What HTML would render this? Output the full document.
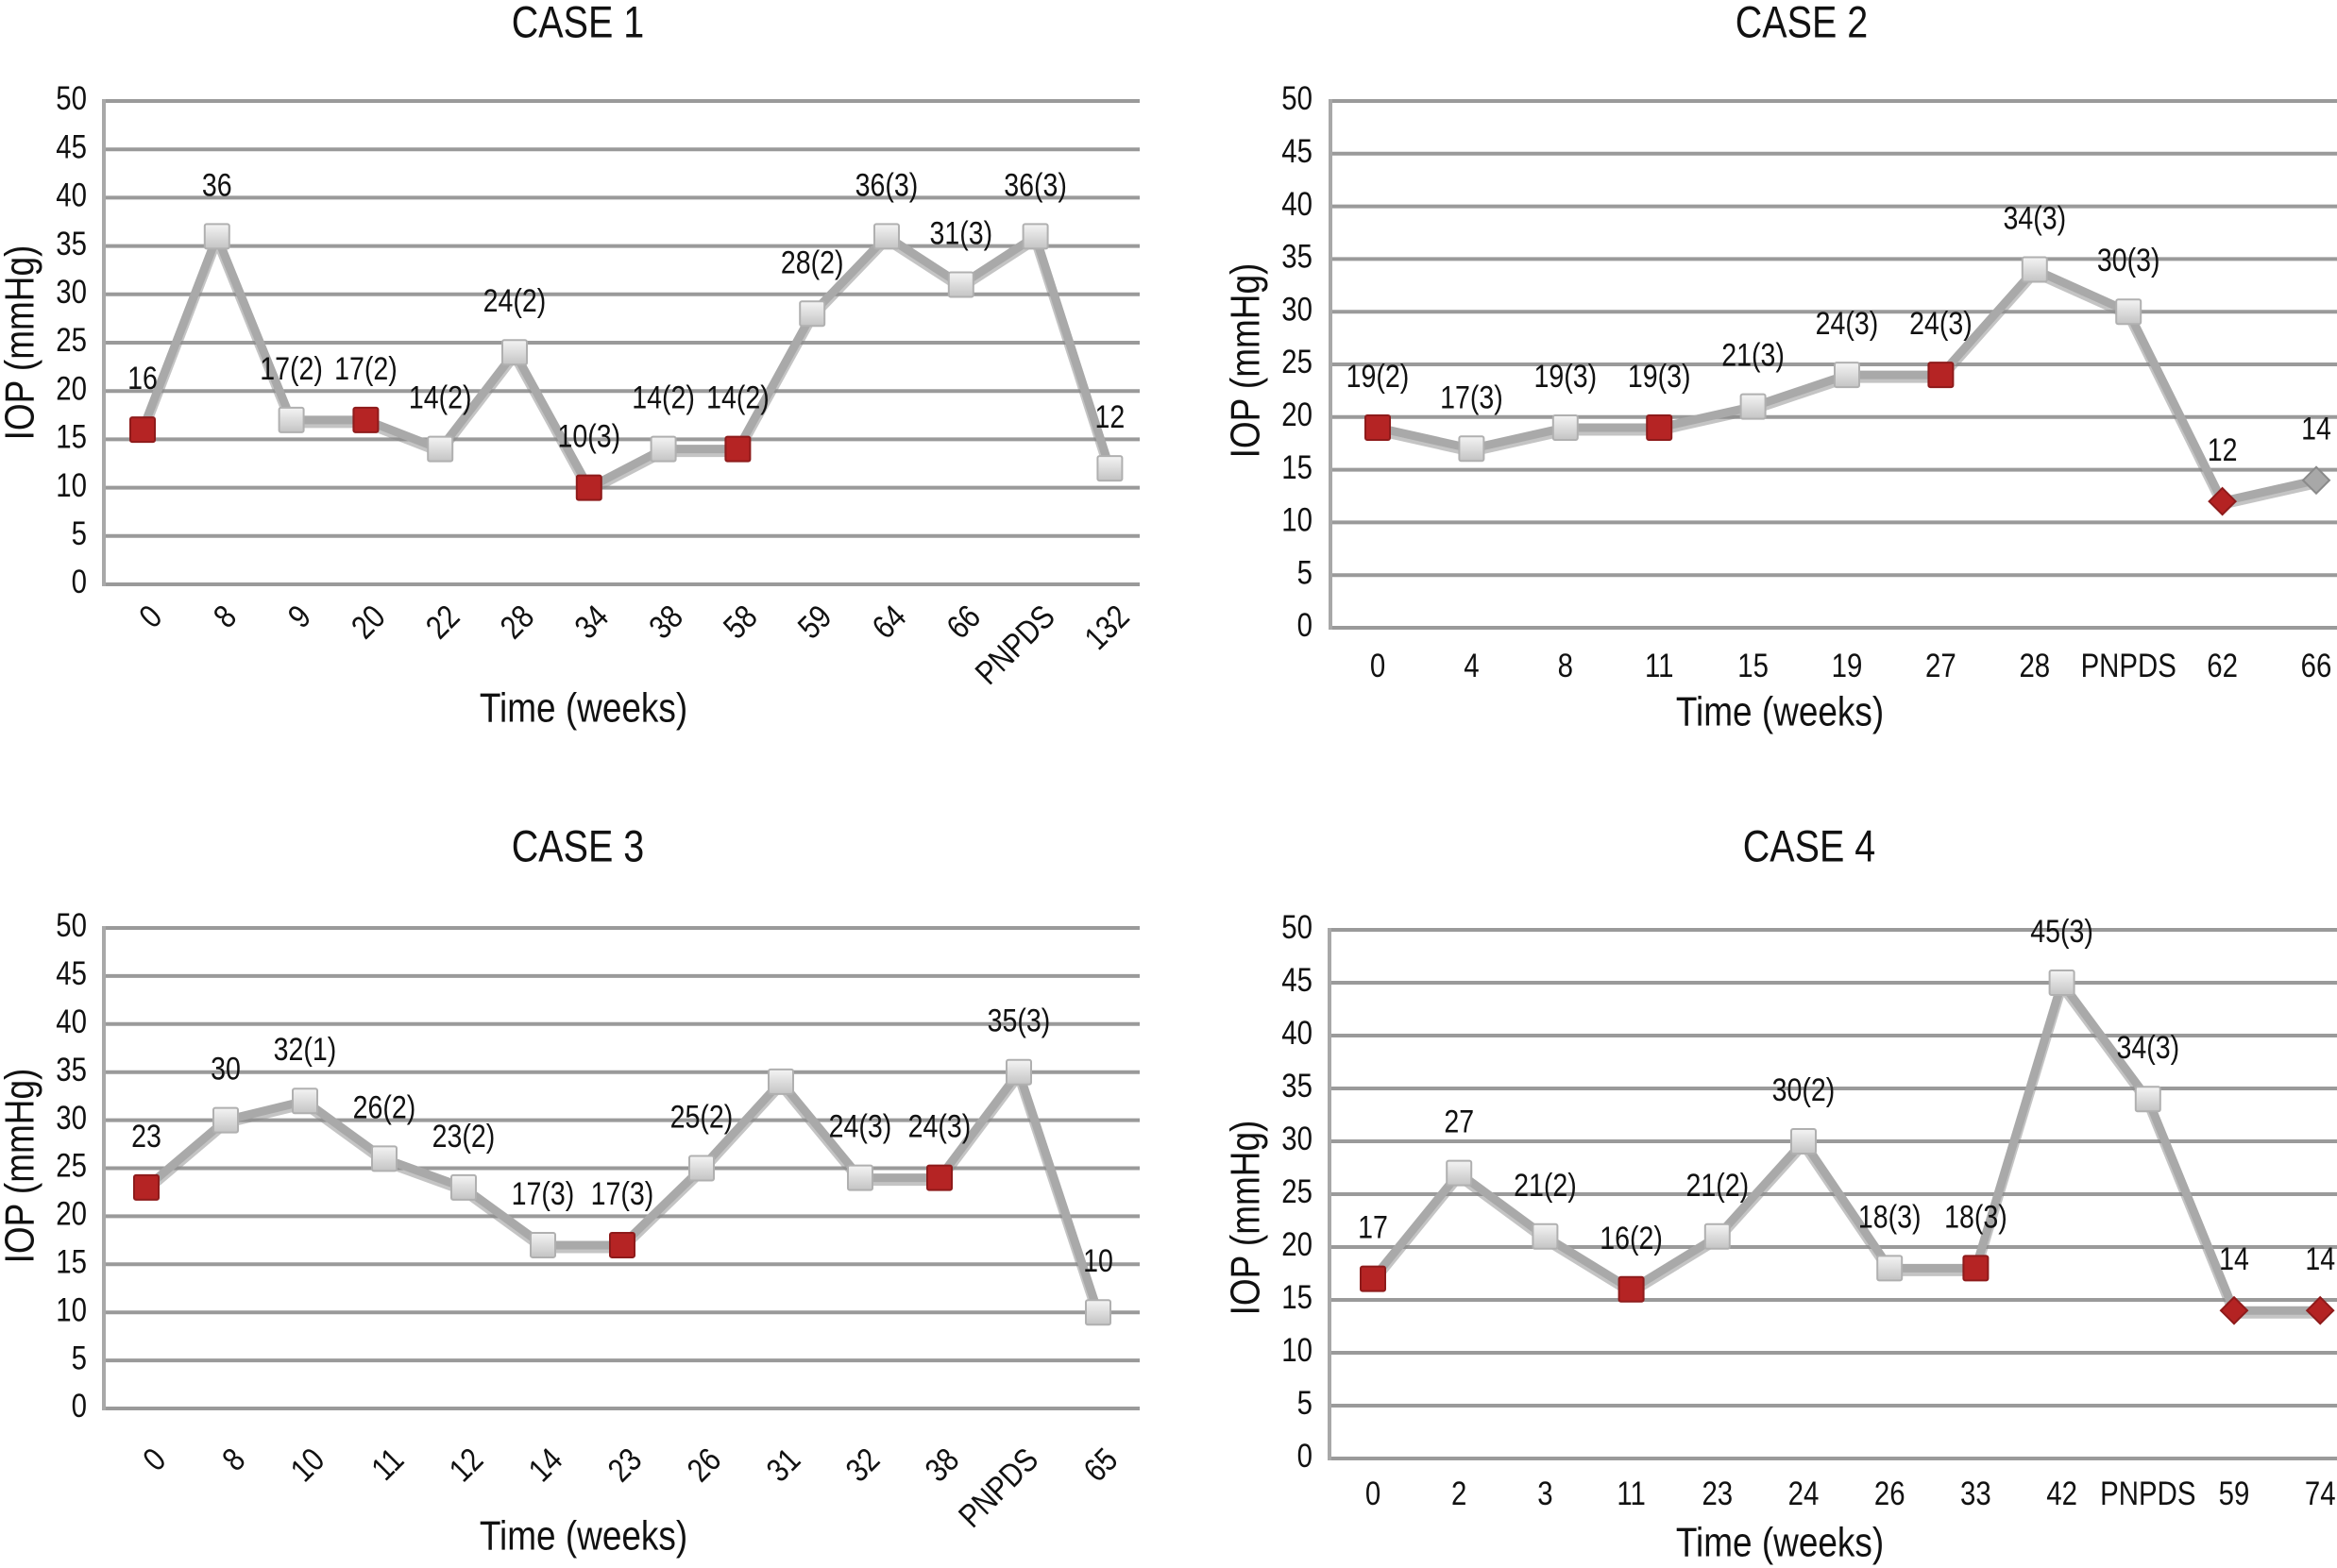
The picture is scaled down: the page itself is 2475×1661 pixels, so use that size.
<!DOCTYPE html>
<html><head><meta charset="utf-8">
<style>
html,body{margin:0;padding:0;background:#fff;}
svg{display:block;}
text{font-family:"Liberation Sans",Arial,sans-serif;fill:#111;}
</style></head>
<body>
<svg id="fig" width="2475" height="1661" viewBox="0 0 2475 1661" xmlns="http://www.w3.org/2000/svg">
<defs>
<linearGradient id="gsq" x1="0" y1="0" x2="0" y2="1">
<stop offset="0" stop-color="#f4f4f4"/><stop offset="1" stop-color="#c4c4c4"/>
</linearGradient>
</defs>
</svg>
<script>
// ---- data ----
const case1Categories = ["0","8","9","20","22","28","34","38","58","59","64","66","PNPDS","132"];
const case1Values = [16,36,17,17,14,24,10,14,14,28,36,31,36,12];
const case1Labels = ["16","36","17(2)","17(2)","14(2)","24(2)","10(3)","14(2)","14(2)","28(2)","36(3)","31(3)","36(3)","12"];
const case1Red = [1,0,0,1,0,0,1,0,1,0,0,0,0,0];

const case2Categories = ["0","4","8","11","15","19","27","28","PNPDS","62","66"];
const case2Values = [19,17,19,19,21,24,24,34,30,12,14];
const case2Labels = ["19(2)","17(3)","19(3)","19(3)","21(3)","24(3)","24(3)","34(3)","30(3)","12","14"];
const case2Red = [1,0,0,1,0,0,1,0,0,1,0];
const case2Diamond = [0,0,0,0,0,0,0,0,0,1,1];

const case3Categories = ["0","8","10","11","12","14","23","26","31","32","38","PNPDS","65"];
const case3Values = [23,30,32,26,23,17,17,25,34,24,24,35,10];
const case3Labels = ["23","30","32(1)","26(2)","23(2)","17(3)","17(3)","25(2)","","24(3)","24(3)","35(3)","10"];
const case3Red = [1,0,0,0,0,0,1,0,0,0,1,0,0];

const case4Categories = ["0","2","3","11","23","24","26","33","42","PNPDS","59","74"];
const case4Values = [17,27,21,16,21,30,18,18,45,34,14,14];
const case4Labels = ["17","27","21(2)","16(2)","21(2)","30(2)","18(3)","18(3)","45(3)","34(3)","14","14"];
const case4Red = [1,0,0,1,0,0,0,1,0,0,1,1];
const case4Diamond = [0,0,0,0,0,0,0,0,0,0,1,1];

const yTicks = [0,5,10,15,20,25,30,35,40,45,50];

const NS = "http://www.w3.org/2000/svg";
const svg = document.getElementById("fig");
const SX = 0.84;
function mk(tag, attrs, parent){
  const e = document.createElementNS(NS, tag);
  for (const k in attrs) e.setAttribute(k, attrs[k]);
  (parent||svg).appendChild(e);
  return e;
}
function txt(parent, x, y, size, anchor, str, extra){
  const e = mk("text", {x:0, y:0, "font-size":size, "text-anchor":anchor, "dominant-baseline":"middle",
    transform:`translate(${x},${y}) ${extra||""} scale(${SX},1)`}, parent);
  e.textContent = str;
  return e;
}

function drawPanel(p){
  const g = mk("g", {});
  
  
  const yScale = v => p.y0 + (p.y50 - p.y0) * v / 50;
  const xScale = i => p.first + p.step * i;

  const t = txt(g, p.titleX, p.titleY, 47, "middle", p.title);
  
  

  yTicks.forEach(v => {
    const y = yScale(v);
    const gl = mk("line", {x1:p.left, x2:p.right, y1:y, y2:y, stroke:"#9a9a9a", "stroke-width":4}, g);
    
    
    const tl = txt(g, p.tickX, y, 35, "end", String(v));
    
    
  });
  const ax = mk("line", {x1:p.left, x2:p.left, y1:p.y50-2, y2:p.y0+2, stroke:"#a8a8a8", "stroke-width":4}, g);
  
  

  const yt = txt(g, p.ytitleX, p.ytitleY, 44, "middle", "IOP (mmHg)", "rotate(-90)");
  
  

  const xt = txt(g, p.xtitleX, p.xtitleY, 44, "middle", "Time (weeks)");
  
  

  p.cats.forEach((c, i) => {
    const x = xScale(i);
    let el;
    if (p.rotate) {
      el = txt(g, x+16, p.xlabY-6, 35, "end", c, "rotate(-45)");
    } else {
      el = txt(g, x, p.xlabY, 35, "middle", c);
    }
    
    
  });

  const pts = p.vals.map((v, i) => `${xScale(i)},${yScale(v)}`).join(" ");
  const shadow = mk("polyline", {points:pts, fill:"none", stroke:"#8a8a8a", "stroke-width":11, "stroke-linejoin":"round", transform:"translate(0,3)", opacity:0.5}, g);
  
  
  const line = mk("polyline", {points:pts, fill:"none", stroke:"#a9a9a9", "stroke-width":9, "stroke-linejoin":"round"}, g);
  
  

  p.vals.forEach((v, i) => {
    const x = xScale(i), y = yScale(v);
    const red = p.red[i], dia = p.diamond && p.diamond[i];
    let m;
    if (dia) {
      m = mk("polygon", {points:`${x},${y-14} ${x+14},${y} ${x},${y+14} ${x-14},${y}`,
        fill: red ? "#b42323" : "#a8a8a8", stroke: red ? "#8e1b1b" : "#8a8a8a", "stroke-width":2}, g);
    } else {
      m = mk("rect", {x:x-13, y:y-13, width:26, height:26, rx:2,
        fill: red ? "#b52424" : "url(#gsq)", stroke: red ? "#8e1b1b" : "#b0b0b0", "stroke-width":2}, g);
    }
    
    
    if (p.labels[i]) {
      const l = txt(g, x, y-52, 34, "middle", p.labels[i]);
      
      
    }
  });
}

drawPanel({name:"case-1-chart", title:"CASE 1", cats:case1Categories, vals:case1Values, labels:case1Labels, red:case1Red,
  first:151, step:78.8, left:110, right:1207, y50:107, y0:619, tickX:92, titleX:612, titleY:27,
  ytitleX:24, ytitleY:363, xtitleX:618, xtitleY:753, xlabY:655, rotate:true});
drawPanel({name:"case-2-chart", title:"CASE 2", cats:case2Categories, vals:case2Values, labels:case2Labels, red:case2Red, diamond:case2Diamond,
  first:1459, step:99.4, left:1409, right:2475, y50:107, y0:665, tickX:1390, titleX:1908, titleY:27,
  ytitleX:1322, ytitleY:382, xtitleX:1885, xtitleY:757, xlabY:708, rotate:false});
drawPanel({name:"case-3-chart", title:"CASE 3", cats:case3Categories, vals:case3Values, labels:case3Labels, red:case3Red,
  first:155, step:84.0, left:110, right:1207, y50:983, y0:1492, tickX:92, titleX:612, titleY:900,
  ytitleX:24, ytitleY:1235, xtitleX:618, xtitleY:1630, xlabY:1548, rotate:true});
drawPanel({name:"case-4-chart", title:"CASE 4", cats:case4Categories, vals:case4Values, labels:case4Labels, red:case4Red, diamond:case4Diamond,
  first:1454, step:91.2, left:1408, right:2475, y50:985, y0:1545, tickX:1390, titleX:1916, titleY:900,
  ytitleX:1322, ytitleY:1290, xtitleX:1885, xtitleY:1637, xlabY:1585, rotate:false});
</script>
</body></html>
